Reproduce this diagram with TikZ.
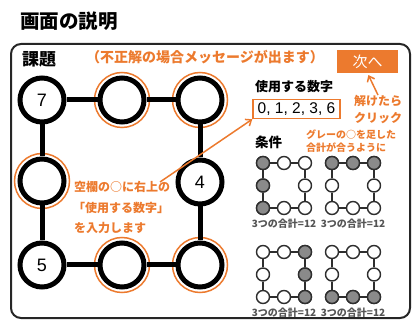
\documentclass[tikz,border=0pt]{standalone}
\usepackage{fontspec}
\setmainfont{Noto Sans CJK JP}
\newfontfamily\digfont{Liberation Sans}
\usetikzlibrary{arrows.meta}
\definecolor{org}{HTML}{EC7A2E}
\definecolor{sgray}{HTML}{8A8A8A}
\definecolor{sline}{HTML}{2E2E2E}
\definecolor{lblgray}{HTML}{555555}
\newcommand\myfs[1]{\fontsize{#1}{#1}\selectfont}
\tikzset{
  bigc/.style={circle,draw=black,line width=5pt,minimum size=44pt,inner sep=0pt,font=\digfont\myfs{18}},
  halo/.style={draw=org,line width=1.5pt},
  conn/.style={draw=black,line width=5pt},
  sc/.style={circle,draw=sline,line width=1.4pt,fill=white,minimum size=13pt,inner sep=0pt},
  sconn/.style={draw=sline,line width=1.4pt},
  otext/.style={text=org,font=\bfseries\myfs{12},inner sep=0pt},
  arr/.style={draw=org,line width=1.5pt,-{Straight Barb[length=5pt,width=8pt]}},
  lbl/.style={text=lblgray,font=\bfseries\myfs{10},inner sep=0pt}
}
\newcommand\sgrid[4]{%
  \foreach \n/\dx/\dy in {a/0/0,b/21/0,c/42/0,d/42/22.5,e/42/45,f/21/45,g/0/45,h/0/22.5}{%
    \node[sc] (#1\n) at (#2+\dx,#3+\dy) {};}
  \foreach \u/\v in {a/b,b/c,c/d,d/e,e/f,f/g,g/h,h/a}{\draw[sconn] (#1\u) -- (#1\v);}
  \foreach \n in {#4}{\draw[sconn,fill=sgray] (#1\n.center) circle (6.5pt);}
  \node[lbl] (#1lbl) at (#2+21,#3+61) {3つの合計=12};
}
\begin{document}
\begin{tikzpicture}[x=1pt,y=-1pt]
\useasboundingbox (0,0) rectangle (412,320);
% title
\node[anchor=west,inner sep=0pt,font=\bfseries\myfs{19.5}] (title) at (20,21) {画面の説明};
% frame
\draw[line width=2pt,draw=black!85,rounded corners=10pt] (11,44) rectangle (410,318);
\node[anchor=west,inner sep=0pt,font=\bfseries\myfs{17}] (kadai) at (22,59) {課題};
\node[anchor=west,otext,font=\bfseries\myfs{14}] (msg) at (86,57) {（不正解の場合メッセージが出ます）};
\node[fill=org,text=white,minimum width=61pt,minimum height=23pt,inner sep=0pt,font=\myfs{15}] (btn) at (367.5,61.5) {次へ};
% big circles
\node[bigc] (c1) at (42,100) {7};
\node[bigc] (c2) at (122,100) {};
\node[bigc] (c3) at (200,100) {};
\node[bigc] (c4) at (42,181) {};
\node[bigc] (c5) at (200,182) {4};
\node[bigc] (c6) at (42,265) {5};
\node[bigc] (c7) at (122,265) {};
\node[bigc] (c8) at (200,265) {};
\foreach \c in {c2,c3,c4,c7,c8}{\draw[halo] (\c.center) circle (27.5pt);}
\draw[conn] (c1) -- (c2);
\draw[conn] (c2) -- (c3);
\draw[conn] (c3) -- (c5);
\draw[conn] (c5) -- (c8);
\draw[conn] (c8) -- (c7);
\draw[conn] (c7) -- (c6);
\draw[conn] (c6) -- (c4);
\draw[conn] (c4) -- (c1);
% explanation text
\node[otext,anchor=west] (t1) at (74,187) {空欄の○に右上の};
\node[otext,anchor=west] (t2) at (73,207.5) {「使用する数字」};
\node[otext,anchor=west] (t3) at (74,228) {を入力します};
\coordinate (as) at (160,182);
% right panel
\node[anchor=west,inner sep=0pt,font=\bfseries\myfs{13}] (use) at (255,87) {使用する数字};
\node[draw=org,line width=1.5pt,minimum width=87pt,minimum height=19pt,inner sep=0pt,font=\digfont\myfs{15.5}] (nums) at (296.5,109) {0, 1, 2, 3, 6};
\draw[arr] (as) -- (nums.south west);
\node[otext] (kake) at (378,101) {解けたら};
\node[otext] (click) at (378,118) {クリック};
\draw[arr,shorten >=2pt] (kake.north) -- (btn.south);
\node[anchor=west,inner sep=0pt,font=\bfseries\myfs{13.5}] (jk) at (255,142) {条件};
\node[otext,anchor=west,font=\bfseries\myfs{10}] (g1t) at (306,135) {グレーの○を足した};
\node[otext,anchor=west,font=\bfseries\myfs{10}] (g2t) at (306,148) {合計が合うように};
\sgrid{p}{263}{163}{a,h,g}
\sgrid{q}{332}{163}{a,b,c}
\sgrid{r}{263}{252}{c,d,e}
\sgrid{s}{332}{252}{g,f,e}
\end{tikzpicture}
\end{document}
